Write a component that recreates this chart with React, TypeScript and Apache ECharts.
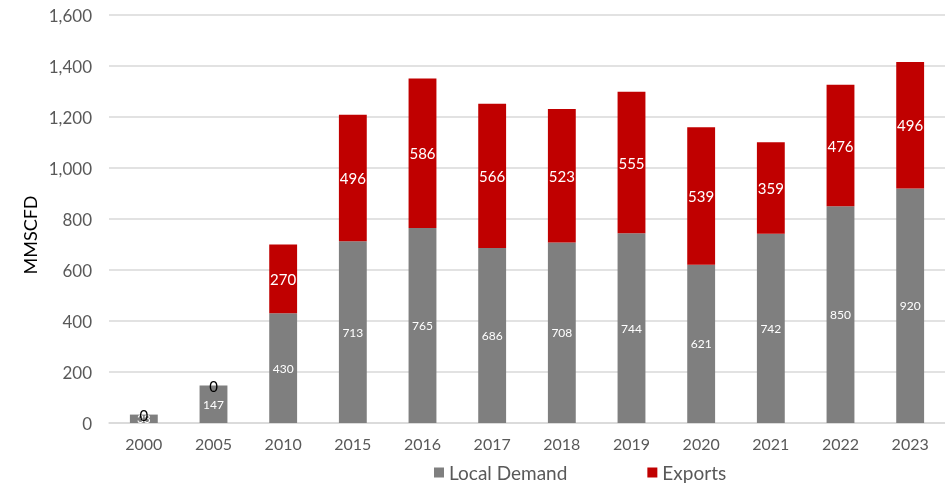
import React, { useEffect, useRef } from "react";
import * as echarts from "echarts";

const categories = ["2000", "2005", "2010", "2015", "2016", "2017", "2018", "2019", "2020", "2021", "2022", "2023"];
const localDemand = [33, 147, 430, 713, 765, 686, 708, 744, 621, 742, 850, 920];
const exportsData = [0, 0, 270, 496, 586, 566, 523, 555, 539, 359, 476, 496];

const FONT = "Lato, 'Open Sans', sans-serif";

export default function App() {
  const ref = useRef<HTMLDivElement>(null);
  useEffect(() => {
    if (!ref.current) return;
    const chart = echarts.init(ref.current, undefined, { renderer: "svg" });
    chart.setOption({
      animation: false,
      textStyle: { fontFamily: FONT },
      grid: { left: 109, right: 0, top: 15, bottom: 67, containLabel: false },
      legend: {
        bottom: 3,
        left: 429,
        itemWidth: 10,
        itemHeight: 10,
        itemGap: 80,
        icon: "rect",
        textStyle: { fontSize: 19, color: "#595959", fontFamily: FONT },
        data: ["Local Demand", "Exports"],
      },
      graphic: [
        {
          type: "text",
          x: 30,
          y: 235,
          rotation: Math.PI / 2,
          style: {
            text: "MMSCFD",
            fill: "#000",
            fontSize: 18,
            fontFamily: FONT,
            textAlign: "center",
            textVerticalAlign: "middle",
          },
        },
      ],
      xAxis: {
        type: "category",
        data: categories,
        axisTick: { show: false },
        axisLine: { lineStyle: { color: "#d9d9d9", width: 1.5 } },
        axisLabel: { color: "#595959", fontSize: 16, margin: 12, fontFamily: FONT },
      },
      yAxis: {
        type: "value",
        min: 0,
        max: 1600,
        interval: 200,
        axisLabel: {
          color: "#595959",
          fontSize: 17,
          margin: 17,
          fontFamily: FONT,
          formatter: (v: number) => v.toLocaleString("en-US"),
        },
        splitLine: { lineStyle: { color: "#d9d9d9", width: 1.5 } },
      },
      series: [
        {
          name: "Local Demand",
          type: "bar",
          stack: "total",
          barWidth: "40%",
          itemStyle: { color: "#7f7f7f" },
          label: { show: true, position: "inside", color: "#fff", fontSize: 12, fontFamily: FONT },
          data: localDemand,
        },
        {
          name: "Exports",
          type: "bar",
          stack: "total",
          itemStyle: { color: "#c00000" },
          label: { show: true, position: "inside", color: "#fff", fontSize: 15, fontFamily: FONT },
          data: exportsData.map((v) =>
            v === 0 ? { value: v, label: { color: "#000" } } : v
          ),
        },
      ],
    });
    return () => chart.dispose();
  }, []);
  return <div ref={ref} style={{ position: "fixed", left: 0, top: 0, width: 945, height: 490 }} />;
}
